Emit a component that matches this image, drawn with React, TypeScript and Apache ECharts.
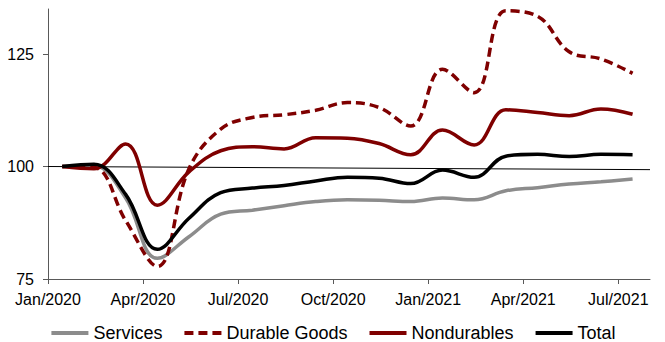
import React, { useEffect, useRef } from "react";
import * as echarts from "echarts";

// Monthly index values, Jan 2020 = 100 (Jan/2020 .. Jul/2021)
const monthCount = 19;
const tickLabels = ["Jan/2020", "Apr/2020", "Jul/2020", "Oct/2020", "Jan/2021", "Apr/2021", "Jul/2021"];

const services = [100, 100.1, 93.0, 79.6, 84.4, 89.4, 90.3, 91.3, 92.2, 92.6, 92.5, 92.2, 93.0, 92.6, 94.6, 95.3, 96.1, 96.6, 97.2];
const durableGoods = [100, 99.8, 88.0, 77.8, 99.5, 108.3, 110.9, 111.5, 112.5, 114.2, 113.1, 109.0, 121.6, 116.4, 134.6, 133.4, 125.5, 123.9, 120.7];
const nondurables = [100, 99.5, 105.0, 91.4, 98.8, 103.5, 104.4, 103.9, 106.4, 106.3, 105.1, 102.6, 108.1, 104.8, 112.6, 112.0, 111.3, 112.8, 111.6];
const total = [100, 100.5, 93.8, 81.6, 88.5, 94.2, 95.2, 95.8, 96.8, 97.6, 97.4, 96.2, 99.2, 97.6, 102.3, 102.7, 102.2, 102.7, 102.6];

// baseline reference line (start and end values)
const baseline = [100, 99.3];

// each monthly observation sits mid-month on the month scale
const MID_MONTH = 0.45;
const toPoints = (vals: number[]) => vals.map((v, i) => [i + MID_MONTH, v]);

const FONT = "'Liberation Sans', Arial, Helvetica, sans-serif";
const MAROON = "#7f0000";

export default function App() {
  const ref = useRef<HTMLDivElement>(null);

  useEffect(() => {
    if (!ref.current) return;
    const chart = echarts.init(ref.current, null, { renderer: "svg" });
    const lineBase = {
      type: "line" as const,
      smooth: 0.4,
      symbol: "none",
      showSymbol: false,
    };
    chart.setOption({
      animation: false,
      backgroundColor: "#ffffff",
      textStyle: { fontFamily: FONT },
      grid: { left: 48, right: 15, top: 9, bottom: 63, containLabel: false },
      xAxis: {
        type: "value",
        min: 0,
        max: monthCount,
        interval: 3,
        axisLine: { show: true, lineStyle: { color: "#595959", width: 1 } },
        axisTick: {
          show: true,
          length: 5,
          lineStyle: { color: "#595959" },
          customValues: tickLabels.map((_, i) => i * 3),
        },
        axisLabel: {
          margin: 12,
          color: "#000",
          fontSize: 16,
          fontFamily: FONT,
          customValues: tickLabels.map((_, i) => i * 3),
          formatter: (v: number) => tickLabels[Math.round(v / 3)] ?? "",
        },
        splitLine: { show: false },
      },
      yAxis: {
        type: "value",
        min: 75,
        max: 135,
        interval: 25,
        axisLine: { show: true, lineStyle: { color: "#595959", width: 1 } },
        axisTick: {
          show: true,
          length: 5,
          lineStyle: { color: "#595959" },
          customValues: [75, 100, 125],
        },
        axisLabel: {
          margin: 14,
          color: "#000",
          fontSize: 16,
          fontFamily: FONT,
          customValues: [75, 100, 125],
        },
        splitLine: { show: false },
      },
      legend: {
        data: ["Services", "Durable Goods", "Nondurables", "Total"],
        left: "center",
        top: 319,
        itemWidth: 37,
        itemHeight: 14,
        itemGap: 20,
        itemStyle: { opacity: 0 },
        lineStyle: { width: 4 },
        textStyle: { fontSize: 18, color: "#000", fontFamily: FONT },
      },
      series: [
        {
          type: "line",
          name: "base",
          data: [
            [0, baseline[0]],
            [monthCount, baseline[1]],
          ],
          symbol: "none",
          silent: true,
          lineStyle: { color: "#000", width: 1 },
          z: 1,
        },
        {
          ...lineBase,
          name: "Services",
          data: toPoints(services),
          lineStyle: { color: "#8c8c8c", width: 3.5 },
          itemStyle: { color: "#8c8c8c" },
          z: 2,
        },
        {
          ...lineBase,
          name: "Durable Goods",
          data: toPoints(durableGoods),
          lineStyle: { color: MAROON, width: 3.5, type: [9, 5] },
          itemStyle: { color: MAROON },
          z: 3,
        },
        {
          ...lineBase,
          name: "Nondurables",
          data: toPoints(nondurables),
          lineStyle: { color: MAROON, width: 3.5 },
          itemStyle: { color: MAROON },
          z: 4,
        },
        {
          ...lineBase,
          name: "Total",
          data: toPoints(total),
          lineStyle: { color: "#000", width: 3.5 },
          itemStyle: { color: "#000" },
          z: 5,
        },
      ],
    });
    return () => chart.dispose();
  }, []);

  return (
    <div
      ref={ref}
      style={{ position: "fixed", left: 0, top: 0, width: 665, height: 342, background: "#fff" }}
    />
  );
}
